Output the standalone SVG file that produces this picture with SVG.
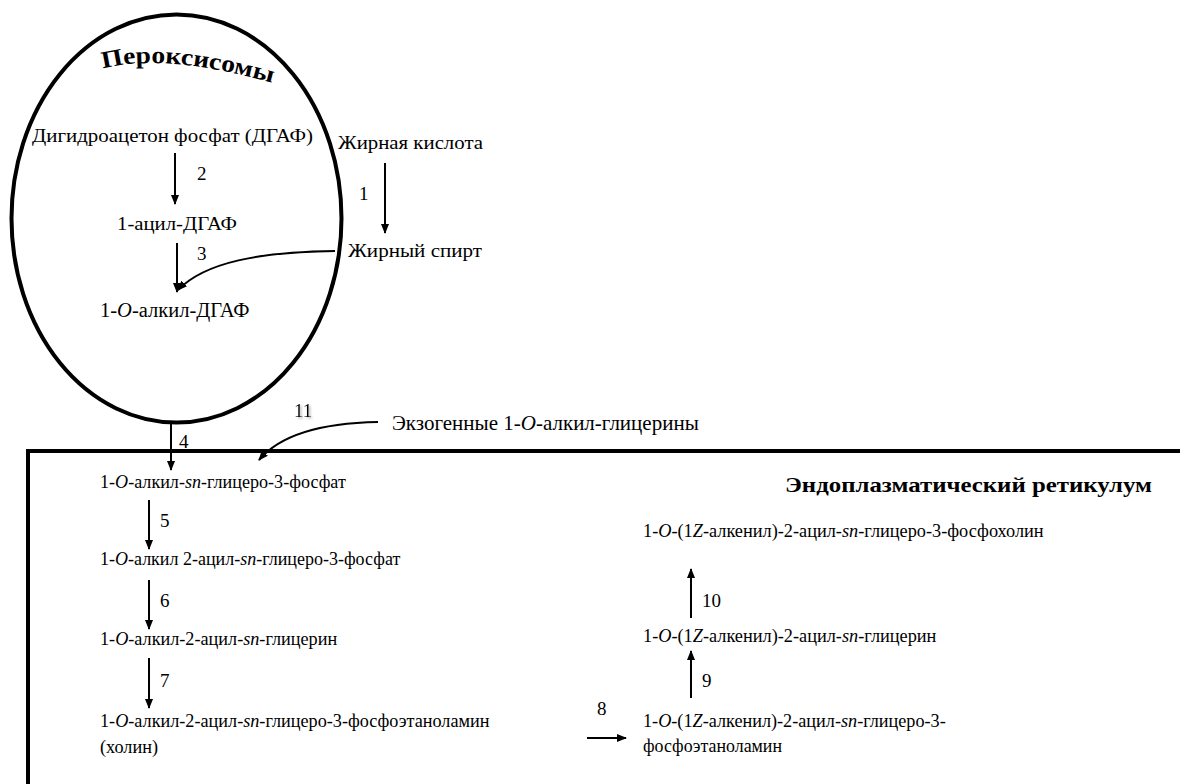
<svg xmlns="http://www.w3.org/2000/svg" width="1180" height="784" viewBox="0 0 1180 784" font-family="Liberation Serif, Times New Roman, serif" font-size="19">
<style>
.t{fill:#000}
.b{font-weight:bold;fill:#000}
.l{stroke:#000;stroke-width:2;fill:none}
.bd{stroke:#000;stroke-width:4;fill:none}
.i{font-style:italic}
</style>
<defs>
<marker id="ah" markerWidth="10" markerHeight="10" refX="9" refY="5" orient="auto" markerUnits="userSpaceOnUse">
<path d="M0,1 L10,5 L0,9 Z" fill="#000"/>
</marker>
<filter id="sh" x="-50%" y="-50%" width="200%" height="200%">
<feDropShadow dx="1.5" dy="1.5" stdDeviation="1" flood-color="#888" flood-opacity="0.7"/>
</filter>
<path id="arc" d="M 98,70 Q 165,50 290,88"/>
</defs>

<g id="peroxisome">
<ellipse cx="176.5" cy="218.5" rx="165" ry="204" class="bd"/>
<text class="b" font-size="24"><textPath href="#arc" startOffset="5" textLength="172" lengthAdjust="spacingAndGlyphs">Пероксисомы</textPath></text>
</g>

<g id="er">
<path d="M28,786 L28,451 L1182,451" class="bd"/>
<text class="b" x="785" y="492" font-size="22" textLength="367" lengthAdjust="spacingAndGlyphs">Эндоплазматический ретикулум</text>
</g>

<g id="nodes">
<g id="n-dhap"><text class="t" x="32" y="142" textLength="281" lengthAdjust="spacingAndGlyphs">Дигидроацетон фосфат (ДГАФ)</text></g>
<g id="n-fa"><text class="t" x="338" y="149" textLength="145" lengthAdjust="spacingAndGlyphs">Жирная кислота</text></g>
<g id="n-acyl"><text class="t" x="117" y="230" textLength="120" lengthAdjust="spacingAndGlyphs">1-ацил-ДГАФ</text></g>
<g id="n-falc"><text class="t" x="348" y="257" textLength="134" lengthAdjust="spacingAndGlyphs">Жирный спирт</text></g>
<g id="n-alkyl"><text class="t" x="100" y="317" font-size="20.5">1-<tspan class="i">O</tspan>-алкил-ДГАФ</text></g>
<g id="n-exo"><text class="t" x="392" y="430" font-size="21">Экзогенные 1-<tspan class="i">O</tspan>-алкил-глицерины</text></g>
<g id="n-agp"><text class="t" x="100" y="488" font-size="18.1">1-<tspan class="i">O</tspan>-алкил-<tspan class="i">sn</tspan>-глицеро-3-фосфат</text></g>
<g id="n-aagp"><text class="t" x="100" y="565" font-size="18">1-<tspan class="i">O</tspan>-алкил 2-ацил-<tspan class="i">sn</tspan>-глицеро-3-фосфат</text></g>
<g id="n-aag"><text class="t" x="100" y="645" font-size="18.2">1-<tspan class="i">O</tspan>-алкил-2-ацил-<tspan class="i">sn</tspan>-глицерин</text></g>
<g id="n-aagpe"><text class="t" x="100" y="727" font-size="18.2">1-<tspan class="i">O</tspan>-алкил-2-ацил-<tspan class="i">sn</tspan>-глицеро-3-фосфоэтаноламин</text><text class="t" x="100" y="753" textLength="58" lengthAdjust="spacingAndGlyphs">(холин)</text></g>
<g id="n-pc"><text class="t" x="643" y="537" font-size="18.3">1-<tspan class="i">O</tspan>-(1<tspan class="i">Z</tspan>-алкенил)-2-ацил-<tspan class="i">sn</tspan>-глицеро-3-фосфохолин</text></g>
<g id="n-plg"><text class="t" x="643" y="642" font-size="18.3">1-<tspan class="i">O</tspan>-(1<tspan class="i">Z</tspan>-алкенил)-2-ацил-<tspan class="i">sn</tspan>-глицерин</text></g>
<g id="n-pe"><text class="t" x="643" y="727" font-size="18.2">1-<tspan class="i">O</tspan>-(1<tspan class="i">Z</tspan>-алкенил)-2-ацил-<tspan class="i">sn</tspan>-глицеро-3-</text><text class="t" x="643" y="752" textLength="139" lengthAdjust="spacingAndGlyphs">фосфоэтаноламин</text></g>
</g>

<g id="connectors">
<line x1="175" y1="153" x2="175" y2="204" class="l" marker-end="url(#ah)"/>
<text class="t" x="197" y="180">2</text>
<line x1="385" y1="163" x2="385" y2="233" class="l" marker-end="url(#ah)"/>
<text class="t" x="359" y="200">1</text>
<line x1="177" y1="243" x2="177" y2="292" class="l" marker-end="url(#ah)"/>
<text class="t" x="197" y="260">3</text>
<path d="M335,251 C260,252 205,262 178,290" class="l" marker-end="url(#ah)"/>
<line x1="171" y1="423" x2="171" y2="470" class="l" marker-end="url(#ah)"/>
<text class="t" x="179" y="448">4</text>
<path d="M378,422 C320,423 280,435 259,460" class="l" marker-end="url(#ah)"/>
<text class="t" x="294" y="417" filter="url(#sh)">11</text>
<line x1="149" y1="500" x2="149" y2="549" class="l" marker-end="url(#ah)"/>
<text class="t" x="160" y="527">5</text>
<line x1="149" y1="580" x2="149" y2="629" class="l" marker-end="url(#ah)"/>
<text class="t" x="160" y="607">6</text>
<line x1="149" y1="658" x2="149" y2="708" class="l" marker-end="url(#ah)"/>
<text class="t" x="160" y="687">7</text>
<line x1="587" y1="738" x2="626" y2="738" class="l" marker-end="url(#ah)"/>
<text class="t" x="597" y="715">8</text>
<line x1="691" y1="698" x2="691" y2="651" class="l" marker-end="url(#ah)"/>
<text class="t" x="702" y="687">9</text>
<line x1="691" y1="618" x2="691" y2="569" class="l" marker-end="url(#ah)"/>
<text class="t" x="702" y="607">10</text>
</g>
</svg>
